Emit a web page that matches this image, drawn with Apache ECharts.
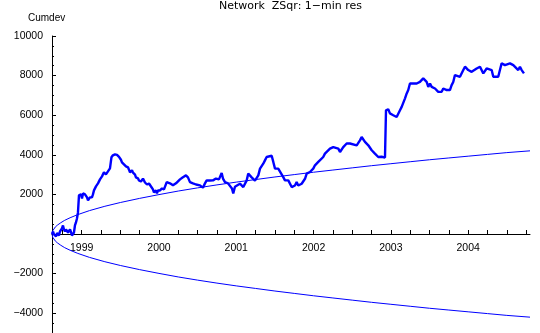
<!DOCTYPE html>
<html>
<head>
<meta charset="utf-8">
<title>Network ZSqr</title>
<script src="https://cdn.jsdelivr.net/npm/echarts@6.0.0/dist/echarts.min.js"></script>
<style>
  html, body { margin: 0; padding: 0; background: #fff; }
  #chart { width: 540px; height: 333px; }
</style>
</head>
<body>
<div id="chart"></div>
<script>
// cumulative deviation, [decimal year, value]
const cumdev = [
  [1998.616, 0], [1998.630, 127], [1998.642, -25], [1998.655, 76], [1998.668, -127],
  [1998.681, 50], [1998.693, 76], [1998.706, -76], [1998.719, 127], [1998.732, 178],
  [1998.745, 278], [1998.758, 430], [1998.771, 230], [1998.784, 127], [1998.797, 230],
  [1998.810, 177], [1998.823, 76], [1998.836, 76], [1998.849, 228], [1998.861, 100],
  [1998.874, -76], [1998.887, -127], [1998.900, 76], [1998.913, 430], [1998.926, 582],
  [1998.939, 785], [1998.952, 1089], [1998.958, 1089], [1998.965, 1949], [1998.978, 1899],
  [1998.991, 2000], [1999.004, 1797], [1999.017, 2050], [1999.030, 1949], [1999.043, 2000],
  [1999.056, 2101], [1999.069, 1848], [1999.082, 1696], [1999.095, 1797], [1999.107, 1848],
  [1999.120, 1747], [1999.133, 1848], [1999.146, 2000], [1999.159, 2202], [1999.172, 2300],
  [1999.185, 2405], [1999.198, 2500], [1999.211, 2557], [1999.224, 2650], [1999.237, 2759],
  [1999.250, 2800], [1999.263, 2911], [1999.276, 3000], [1999.288, 3114], [1999.301, 3060],
  [1999.314, 3012], [1999.327, 3100], [1999.340, 3164], [1999.353, 3265], [1999.366, 3316],
  [1999.379, 3215], [1999.385, 3873], [1999.404, 3975], [1999.418, 3900], [1999.431, 4025],
  [1999.444, 4126], [1999.457, 4000], [1999.470, 3975], [1999.483, 3900], [1999.495, 3822],
  [1999.508, 3750], [1999.521, 3620], [1999.534, 3550], [1999.547, 3519], [1999.560, 3450],
  [1999.573, 3417], [1999.586, 3500], [1999.599, 3367], [1999.612, 3250], [1999.625, 3114],
  [1999.638, 3200], [1999.651, 3215], [1999.664, 3100], [1999.677, 3114], [1999.690, 3000],
  [1999.702, 2860], [1999.715, 2900], [1999.728, 2810], [1999.741, 2700], [1999.754, 2608],
  [1999.767, 2650], [1999.780, 2709], [1999.793, 2800], [1999.806, 2759], [1999.819, 2600],
  [1999.832, 2557], [1999.845, 2500], [1999.858, 2456], [1999.871, 2550], [1999.884, 2506],
  [1999.897, 2400], [1999.909, 2354], [1999.922, 2250], [1999.935, 2101], [1999.948, 2100],
  [1999.961, 2200], [1999.974, 2050], [1999.987, 2202],
  [2000.013, 2200], [2000.039, 2300], [2000.065, 2250], [2000.100, 2620], [2000.142, 2557],
  [2000.181, 2456], [2000.220, 2557], [2000.272, 2759], [2000.310, 2870], [2000.349, 2960],
  [2000.375, 2860], [2000.401, 2620], [2000.440, 2557], [2000.479, 2500], [2000.530, 2456],
  [2000.569, 2340], [2000.595, 2557], [2000.617, 2709], [2000.660, 2700], [2000.699, 2709],
  [2000.737, 2800], [2000.776, 2760], [2000.811, 3080], [2000.828, 2800], [2000.854, 2620],
  [2000.893, 2557], [2000.918, 2557], [2000.944, 2300], [2000.961, 2050], [2000.983, 2390],
  [2001.009, 2450], [2001.048, 2540], [2001.091, 2370], [2001.135, 2710], [2001.155, 3050],
  [2001.177, 3000], [2001.199, 2860], [2001.216, 2760], [2001.242, 2700], [2001.264, 2620],
  [2001.285, 2960], [2001.307, 3300], [2001.349, 3550], [2001.371, 3720], [2001.393, 3890],
  [2001.414, 3970], [2001.458, 3950], [2001.479, 3640], [2001.501, 3300], [2001.543, 3300],
  [2001.565, 3220], [2001.608, 2870], [2001.630, 2710], [2001.673, 2710], [2001.717, 2370],
  [2001.737, 2290], [2001.759, 2450], [2001.781, 2620], [2001.802, 2450], [2001.824, 2370],
  [2001.846, 2540], [2001.889, 2790], [2001.911, 3050], [2001.953, 3130], [2001.996, 3300],
  [2002.018, 3470], [2002.040, 3550], [2002.061, 3640], [2002.083, 3720], [2002.125, 3890],
  [2002.147, 4060], [2002.169, 4140], [2002.212, 4310], [2002.255, 4390], [2002.277, 4480],
  [2002.320, 4310], [2002.342, 4140], [2002.384, 4390], [2002.428, 4570], [2002.471, 4570],
  [2002.493, 4650], [2002.558, 4480], [2002.600, 4730], [2002.622, 4900], [2002.665, 4650],
  [2002.708, 4480], [2002.730, 4390], [2002.752, 4230], [2002.772, 4140], [2002.794, 4060],
  [2002.837, 3890], [2002.881, 3900], [2002.924, 3860], [2002.933, 3810], [2002.937, 6250],
  [2002.966, 6300], [2002.988, 6090], [2003.031, 6000], [2003.075, 5910], [2003.118, 6250],
  [2003.140, 6420], [2003.183, 6850], [2003.205, 7100], [2003.225, 7270], [2003.247, 7600],
  [2003.290, 7600], [2003.334, 7600], [2003.376, 7680], [2003.419, 7860], [2003.441, 7910],
  [2003.463, 7680], [2003.484, 7430], [2003.506, 7600], [2003.528, 7430], [2003.571, 7350],
  [2003.593, 7270], [2003.613, 7180], [2003.657, 7180], [2003.678, 7350], [2003.722, 7270],
  [2003.764, 7270], [2003.786, 7520], [2003.807, 7680], [2003.829, 8030], [2003.851, 8110],
  [2003.894, 7940], [2003.937, 8280], [2003.959, 8450], [2004.001, 8280], [2004.045, 8190],
  [2004.110, 8360], [2004.153, 8450], [2004.196, 8110], [2004.239, 8360], [2004.260, 8450],
  [2004.304, 8280], [2004.325, 7940], [2004.347, 7860], [2004.389, 7940], [2004.411, 8280],
  [2004.433, 8620], [2004.476, 8530], [2004.541, 8620], [2004.563, 8700], [2004.584, 8530],
  [2004.606, 8450], [2004.648, 8280], [2004.670, 8450], [2004.692, 8280], [2004.713, 8190],
  [2004.722, 8110]
]

// envelope curves
const envYears = [1998.616, 1998.625, 1998.64, 1998.66, 1998.69, 1998.73, 1998.78, 1998.85,
  1998.95, 1999.1, 1999.3, 1999.5, 1999.75, 2000, 2000.25, 2000.5, 2000.75, 2001, 2001.25,
  2001.5, 2001.75, 2002, 2002.25, 2002.5, 2002.75, 2003, 2003.25, 2003.5, 2003.75, 2004,
  2004.25, 2004.5, 2004.8]
const envUpper = [0, 160, 260, 360, 460, 570, 690, 820, 980, 1180, 1400, 1590, 1800, 1990,
  2170, 2330, 2480, 2620, 2750, 2880, 3000, 3120, 3230, 3340, 3450, 3550, 3650, 3750, 3840,
  3930, 4020, 4110, 4200]
const envLower = [0, -160, -260, -360, -460, -570, -690, -820, -980, -1180, -1400, -1590,
  -1800, -1990, -2170, -2330, -2480, -2620, -2750, -2880, -3000, -3120, -3230, -3340, -3450,
  -3550, -3650, -3750, -3840, -3930, -4020, -4110, -4200]

const yearLabels = [1999, 2000, 2001, 2002, 2003, 2004]
const quarterTicks = [1998.75, 1999, 1999.25, 1999.5, 1999.75, 2000, 2000.25, 2000.5, 2000.75,
  2001, 2001.25, 2001.5, 2001.75, 2002, 2002.25, 2002.5, 2002.75, 2003, 2003.25, 2003.5,
  2003.75, 2004, 2004.25, 2004.5, 2004.75]
const yMajorTicks = [-4000, -2000, 0, 2000, 4000, 6000, 8000, 10000]
const yTickLabels = [-4000, -2000, 2000, 4000, 6000, 8000, 10000]

const blue = '#0000ff'
const tickFont = 'Liberation Sans'
const yMin = -5000
const yMax = 10000
const gridTop = 36
const gridHeight = 297

const chart = echarts.init(document.getElementById('chart'), null, { renderer: 'canvas' })

// x axis sits on y = 0, moved up from the bottom of the grid
const zeroOffset = -Math.round(gridHeight * (0 - yMin) / (yMax - yMin))

chart.setOption({
  animation: false,
  backgroundColor: '#fff',
  graphic: [
    {
      type: 'text',
      x: 290.5,
      y: 6.5,
      style: {
        text: 'Network  ZSqr: 1\u2212min res',
        font: '11px "DejaVu Sans"',
        fill: '#000',
        textAlign: 'center',
        textVerticalAlign: 'middle'
      }
    },
    {
      type: 'text',
      x: 28,
      y: 18.5,
      style: {
        text: 'Cumdev',
        font: '10px "Liberation Sans"',
        fill: '#000',
        textAlign: 'left',
        textVerticalAlign: 'middle'
      }
    }
  ],
  grid: {
    left: 52,
    right: 10,
    top: gridTop,
    height: gridHeight,
    containLabel: false,
    outerBoundsMode: 'none'
  },
  xAxis: {
    type: 'value',
    position: 'bottom',
    offset: zeroOffset,
    min: 1998.616,
    max: 2004.8,
    axisLine: { onZero: false, lineStyle: { color: '#000', width: 1 } },
    axisTick: {
      inside: true,
      length: 4,
      customValues: quarterTicks,
      lineStyle: { color: '#000' }
    },
    axisLabel: {
      show: true,
      customValues: yearLabels,
      formatter: v => String(Math.round(v)),
      color: '#000',
      fontFamily: tickFont,
      fontSize: 10.5,
      margin: 9
    },
    splitLine: { show: false }
  },
  yAxis: [
    {
      type: 'value',
      min: yMin,
      max: yMax,
      axisLine: { show: true, onZero: false, lineStyle: { color: '#000', width: 1 } },
      axisTick: {
        show: true,
        inside: true,
        length: 4,
        customValues: yMajorTicks,
        lineStyle: { color: '#000' }
      },
      axisLabel: {
        customValues: yTickLabels,
        formatter: v => (v < 0 ? '\u2212' + Math.abs(v) : String(v)),
        color: '#000',
        fontFamily: tickFont,
        fontSize: 10.5,
        margin: 9
      },
      splitLine: { show: false }
    },
    {
      // minor ticks every 500
      type: 'value',
      position: 'left',
      min: yMin,
      max: yMax,
      interval: 500,
      axisLine: { show: false, onZero: false },
      axisTick: { show: true, inside: true, length: 2, lineStyle: { color: '#000' } },
      axisLabel: { show: false },
      splitLine: { show: false }
    }
  ],
  series: [
    {
      name: 'upper',
      type: 'line',
      data: envYears.map((t, i) => [t, envUpper[i]]),
      showSymbol: false,
      lineStyle: { color: blue, width: 1 },
      silent: true
    },
    {
      name: 'lower',
      type: 'line',
      data: envYears.map((t, i) => [t, envLower[i]]),
      showSymbol: false,
      lineStyle: { color: blue, width: 1 },
      silent: true
    },
    {
      name: 'Cumdev',
      type: 'line',
      data: cumdev,
      showSymbol: false,
      lineStyle: { color: blue, width: 2.4 },
      silent: true
    }
  ]
})
</script>
</body>
</html>
